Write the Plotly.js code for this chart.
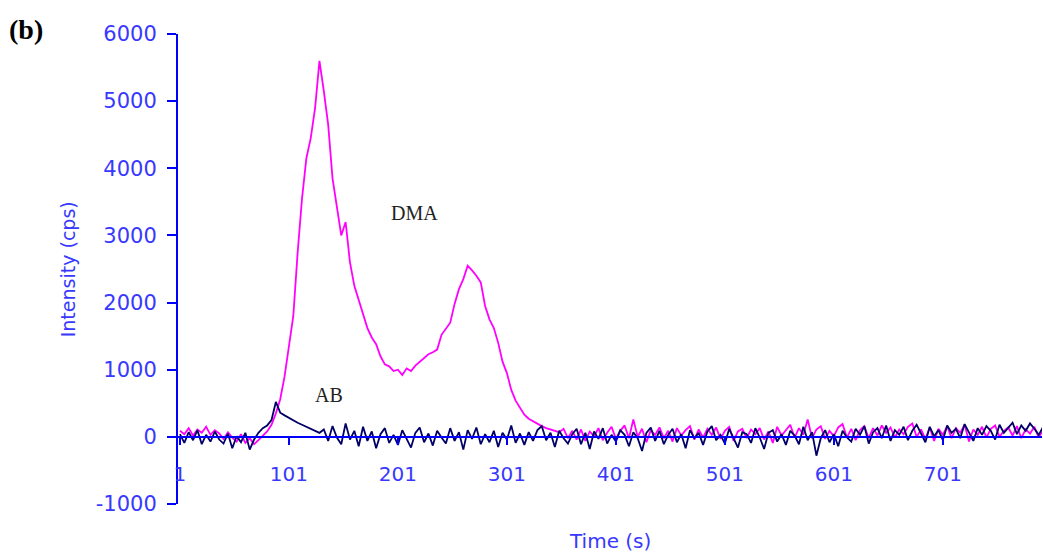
<!DOCTYPE html>
<html>
<head>
<meta charset="utf-8">
<script src="https://cdn.plot.ly/plotly-3.0.1.min.js"></script>
<style>
  html, body { margin: 0; padding: 0; background: #fff; }
  #graph { width: 1043px; height: 559px; }
</style>
</head>
<body>
<div id="graph"></div>
<script>
/** Pas d'échantillonnage (s) et premier instant */
const pas = 4
const t0 = 1

/** DMA, intensité (cps), un point toutes les 4 s à partir de t = 1 */
let dma = [
    90, 40, 130, 20, 110, 60, 150, 30, 100, 50,             // 1..37
    -30, 70, -10, -70, 40, -90, -20, -110, -50, 20,         // 41..77
    80, 180, 350, 560, 900, 1350, 1800, 2750, 3550, 4150,   // 81..117
    4450, 4900, 5600, 5150, 4650, 3850, 3450, 3000, 3200, 2600, // 121..157
    2250, 2050, 1850, 1620, 1480, 1380, 1200, 1080, 1050, 980,  // 161..197
    1000, 920, 1020, 980, 1060, 1120, 1180, 1230, 1260, 1300,   // 201..237
    1520, 1620, 1700, 1980, 2200, 2350, 2550, 2480, 2400, 2300, // 241..277
    1950, 1750, 1620, 1400, 1120, 950, 700, 540, 440, 330,  // 281..317
    270, 230, 200, 160, 130, 110, 90, 70, 120, -20,         // 321..357
    90, -40, 110, -60, 80, 10, 130, -50, 60, 150,           // 361..397
    -30, 90, 170, -20, 260, 0, 120, -80, 100, 30,           // 401..437
    140, -20, 90, -70, 130, 20, 100, 160, -40, 110,         // 441..477
    -10, 120, 30, 140, -30, 90, 150, -60, 80, 120,          // 481..517
    -20, 110, 40, 130, -40, 80, -90, 150, 20, 100,          // 521..557
    180, -10, 130, 30, 260, -20, 110, 160, -30, 90,         // 561..597
    10, 140, 190, -10, 120, -50, 100, 160, -20, 130,        // 601..637
    20, 170, 60, 140, -10, 110, 40, 150, 200, 0,            // 641..677
    110, -30, 140, -60, 120, 30, 160, -20, 130, 60,         // 681..717
    180, -70, 110, 30, 150, -10, 120, 170, 0, 90,           // 721..757
    140, 20, 160, -20, 110, 50, 150, -10, 100               // 761..793
]

/** AB, intensité (cps), même grille */
let ab = [
    40, -90, 70, -50, 100, -110, 30, -70, 80, -40,          // 1..37
    -100, 50, -170, 10, -80, 60, -190, -40, 60, 130,        // 41..77
    170, 250, 520, 360, 320, 280, 240, 210, 180, 150,       // 81..117
    130, 100, 60, 110, -60, 160, -10, -110, 200, -40,       // 121..157
    90, -140, 150, -60, 80, -170, 40, 130, -90, 30,         // 161..197
    -120, 100, -20, -160, 60, 140, -80, 50, -130, 90,       // 201..237
    -10, -100, 130, -60, 70, -190, 100, -30, 140, -110,     // 241..277
    40, -80, 90, -150, 60, -40, 170, -90, 50, -120,         // 281..317
    70, -60, 100, 160, -50, 60, -150, 90, -20, -100,        // 321..357
    40, 120, -110, 60, -180, 80, -30, 130, -100, 30,        // 361..397
    -70, 100, 30, -140, 70, -20, -210, 60, 140, -60,        // 401..437
    90, -110, 30, 120, -80, 40, -170, 100, -20, 60,         // 441..477
    -120, 80, 160, -50, 30, -100, 120, -20, -160, 70,       // 481..517
    40, -90, 130, -10, -180, 60, 100, -70, 40, -120,        // 521..557
    90, 20, -110, 150, -50, 70, -280, -20, 100, -80,        // 561..597
    40, -140, 90, -10, -70, 120, 30, 160, -100, 70,         // 601..637
    130, -20, 170, -60, 100, 30, 150, -50, 90, 180,         // 641..677
    50, -80, 150, 10, 100, -50, 170, 60, 120, -20,          // 681..717
    190, 70, -60, 130, 30, 160, 90, -40, 180, 60,           // 721..757
    140, 210, 40, 170, 90, 200, 120, 30, 150                // 761..793
]

/** Étiquettes */
let titreX = 'Time (s)'
let titreY = 'Intensity (cps)'
let nomsSeries = ['DMA', 'AB']
let yTicks = [-1000, 0, 1000, 2000, 3000, 4000, 5000, 6000]
let yTicksTexte = ['-1000', '0', '1000', '2000', '3000', '4000', '5000', '6000']

let temps = dma.map((_, i) => t0 + pas*i)

const bleu = '#0000ff'
const bleuTexte = '#3838ff'
const police = 'DejaVu Sans, Verdana, sans-serif'
const serif = 'Liberation Serif, Times New Roman, serif'

let data = [
    {
        x: temps, y: dma,
        mode: 'lines', line: { color: '#ff00ff', width: 1.8 },
        name: nomsSeries[0]
    },
    {
        x: temps, y: ab,
        mode: 'lines', line: { color: '#000066', width: 1.8 },
        name: nomsSeries[1]
    }
]

let layout = {
    width: 1043, height: 559,
    showlegend: false,
    paper_bgcolor: '#fff', plot_bgcolor: '#fff',
    margin: { l: 178, r: 1, t: 34, b: 55, pad: 0 },
    xaxis: {
        range: [-0.8, 792],
        tick0: 1, dtick: 100,
        anchor: 'free', position: 1/7, // l'axe des x passe par y = 0
        showline: true, linecolor: bleu, linewidth: 2,
        ticks: 'outside', ticklen: 7, tickcolor: bleu, tickwidth: 2,
        ticklabelstandoff: 12,
        showgrid: false, zeroline: false,
        tickfont: { family: police, size: 20, color: bleuTexte }
    },
    yaxis: {
        range: [-1000, 6000],
        tickvals: yTicks, ticktext: yTicksTexte,
        showline: true, linecolor: bleu, linewidth: 2,
        ticks: 'outside', ticklen: 9, tickcolor: bleu, tickwidth: 2,
        ticklabelstandoff: 6,
        showgrid: false, zeroline: false,
        tickfont: { family: police, size: 21, color: bleuTexte }
    },
    annotations: [
        { xref: 'paper', yref: 'paper', x: 0.5, y: -0.079, yanchor: 'middle', showarrow: false,
          text: titreX, font: { family: police, size: 20, color: bleuTexte } },
        { xref: 'paper', yref: 'paper', x: -0.127, xanchor: 'center', y: 0.5, textangle: -90, showarrow: false,
          text: titreY, font: { family: police, size: 19, color: bleuTexte } },
        { xref: 'paper', yref: 'paper', x: -0.198, y: 1.01, xanchor: 'left', yanchor: 'middle', showarrow: false,
          text: '<b>(b)</b>', font: { family: serif, size: 28, color: '#000' } },
        { x: 216, y: 3330, showarrow: false,
          text: nomsSeries[0], font: { family: serif, size: 20, color: '#222' } },
        { x: 138, y: 624, showarrow: false,
          text: nomsSeries[1], font: { family: serif, size: 20, color: '#222' } }
    ]
}

Plotly.newPlot('graph', data, layout, { displayModeBar: false, staticPlot: true })
</script>
</body>
</html>
